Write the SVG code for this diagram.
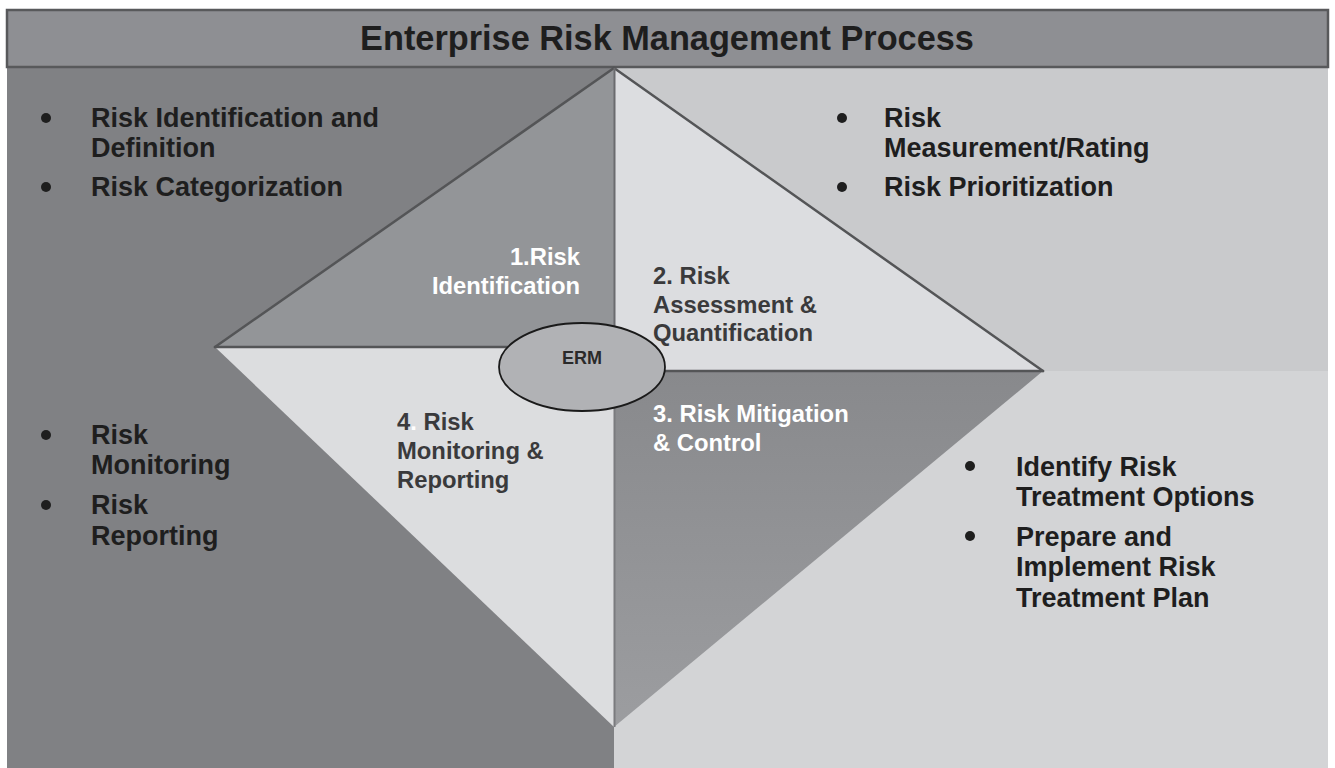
<svg xmlns="http://www.w3.org/2000/svg" width="1335" height="768" viewBox="0 0 1335 768">
<defs>
<style>
.b{font-family:"Liberation Sans",Arial,sans-serif;font-weight:bold;font-size:27px;fill:#1e1e1e}
.q{font-family:"Liberation Sans",Arial,sans-serif;font-weight:bold;font-size:23.8px}
.dk{fill:#3a3a3c}
.wh{fill:#ffffff}
.edge{stroke:#545557;stroke-width:2.5;fill:none;stroke-linecap:round}
.dot{fill:#1e1e1e}
</style>
<linearGradient id="brg" x1="0" y1="0" x2="0" y2="1">
<stop offset="0" stop-color="#88898c"/>
<stop offset="1" stop-color="#9c9da0"/>
</linearGradient>
</defs>
<rect width="1335" height="768" fill="#ffffff"/>
<g id="panels">
<rect x="7" y="67" width="607" height="701" fill="#808184"/>
<rect x="614" y="67" width="714" height="304" fill="#c9cacc"/>
<rect x="614" y="371" width="714" height="397" fill="#d3d4d6"/>
</g>
<g id="title">
<rect x="7" y="10" width="1321" height="57" fill="#8e8f93" stroke="#58595b" stroke-width="2.5"/>
<text x="667" y="50" text-anchor="middle" font-family="'Liberation Sans',Arial,sans-serif" font-weight="bold" font-size="34.3" fill="#1e1e1e">Enterprise Risk Management Process</text>
</g>
<g id="q1">
<polygon points="614,68 215,347 614,347" fill="#939598"/>
<text class="q wh" text-anchor="end"><tspan x="580" y="265">1.Risk</tspan><tspan x="580" y="294">Identification</tspan></text>
</g>
<g id="q2">
<polygon points="614,68 1043,371 614,371" fill="#dcdde0"/>
<text class="q dk"><tspan x="653" y="284">2. Risk</tspan><tspan x="653" y="313">Assessment &amp;</tspan><tspan x="653" y="341">Quantification</tspan></text>
</g>
<g id="q3">
<polygon points="614,371 1043,371 614,727" fill="url(#brg)"/>
<text class="q wh"><tspan x="653" y="422">3. Risk Mitigation</tspan><tspan x="653" y="451">&amp; Control</tspan></text>
</g>
<g id="q4">
<polygon points="215,347 614,347 614,727" fill="#dcdddf"/>
<text class="q dk"><tspan x="397" y="430">4<tspan class="wh">.</tspan> Risk</tspan><tspan x="397" y="459">Monitoring &amp;</tspan><tspan x="397" y="488">Reporting</tspan></text>
</g>
<g id="dividers">
<line class="edge" x1="614" y1="68" x2="215" y2="347"/>
<line class="edge" x1="614" y1="68" x2="1043" y2="371"/>
<line class="edge" x1="215" y1="347" x2="614" y2="347"/>
<line class="edge" x1="614" y1="371" x2="1043" y2="371"/>
<line x1="614.5" y1="68" x2="614.5" y2="371" stroke="#6a6b6e" stroke-width="2"/>
<line x1="614.5" y1="371" x2="614.5" y2="727" stroke="#7a7b7e" stroke-width="2"/>
</g>
<g id="erm">
<ellipse cx="582" cy="367" rx="83" ry="44" fill="#b1b2b5" stroke="#1a1a1a" stroke-width="1.8"/>
<text x="582" y="364" text-anchor="middle" font-family="'Liberation Sans',Arial,sans-serif" font-weight="bold" font-size="18" fill="#2a2a2a">ERM</text>
</g>
<g id="notes-tl">
<circle class="dot" cx="46" cy="118" r="5"/>
<circle class="dot" cx="46" cy="187" r="5"/>
<text class="b"><tspan x="91" y="127">Risk Identification and</tspan><tspan x="91" y="157">Definition</tspan><tspan x="91" y="196">Risk Categorization</tspan></text>
</g>
<g id="notes-tr">
<circle class="dot" cx="842" cy="118" r="5"/>
<circle class="dot" cx="842" cy="187" r="5"/>
<text class="b"><tspan x="884" y="127">Risk</tspan><tspan x="884" y="157">Measurement/Rating</tspan><tspan x="884" y="196">Risk Prioritization</tspan></text>
</g>
<g id="notes-bl">
<circle class="dot" cx="46" cy="435" r="5"/>
<circle class="dot" cx="46" cy="505" r="5"/>
<text class="b"><tspan x="91" y="444">Risk</tspan><tspan x="91" y="474">Monitoring</tspan><tspan x="91" y="514">Risk</tspan><tspan x="91" y="545">Reporting</tspan></text>
</g>
<g id="notes-br">
<circle class="dot" cx="970" cy="466" r="5"/>
<circle class="dot" cx="970" cy="536" r="5"/>
<text class="b"><tspan x="1016" y="476">Identify Risk</tspan><tspan x="1016" y="506">Treatment Options</tspan><tspan x="1016" y="546">Prepare and</tspan><tspan x="1016" y="576">Implement Risk</tspan><tspan x="1016" y="607">Treatment Plan</tspan></text>
</g>
</svg>
